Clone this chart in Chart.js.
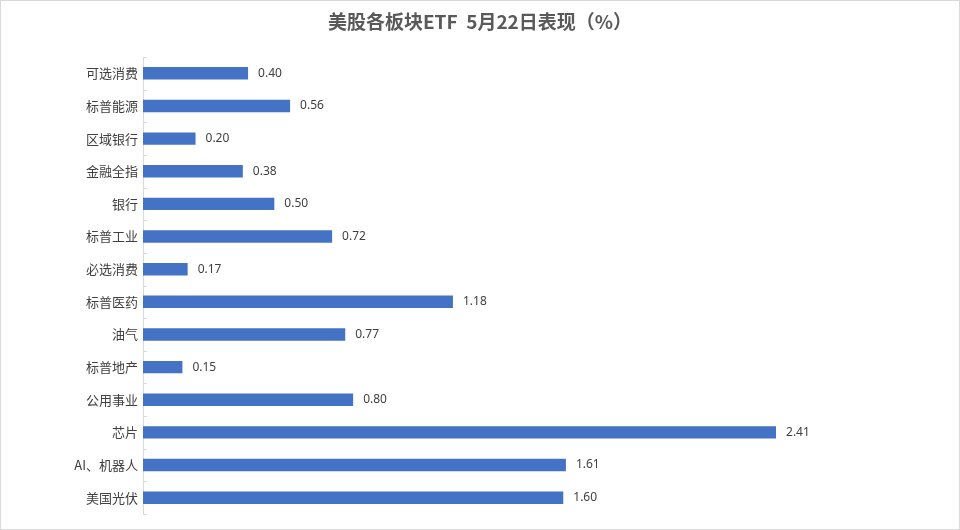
<!DOCTYPE html>
<html>
<head>
<meta charset="utf-8">
<script src="https://cdn.jsdelivr.net/npm/chart.js@4/dist/chart.umd.min.js"></script>
<style>
  html, body { margin: 0; padding: 0; background: #fff; }
  #wrap { width: 960px; height: 530px; position: relative; }
</style>
</head>
<body>
<div id="wrap"><canvas id="etfChart" width="960" height="530"></canvas></div>
<script>
// categories, top to bottom
const sectors = ['可选消费', '标普能源', '区域银行', '金融全指', '银行', '标普工业', '必选消费',
  '标普医药', '油气', '标普地产', '公用事业', '芯片', 'AI、机器人', '美国光伏'];
// 5月22日涨幅 (%)
const changes = [0.40, 0.56, 0.20, 0.38, 0.50, 0.72, 0.17, 1.18, 0.77, 0.15, 0.80, 2.41, 1.61, 1.60];
const xMax = 3;
const titleText = '美股各板块ETF  5月22日表现（%）';

const cjkFont = '"Noto Sans CJK SC", "Microsoft YaHei", sans-serif';

// frame, centred title and small inward ticks on the category axis
const framePlugin = {
  id: 'frame',
  beforeDraw(chart) {
    const ctx = chart.ctx;
    ctx.save();
    ctx.fillStyle = '#fff';
    ctx.fillRect(0, 0, chart.width, chart.height);
    ctx.strokeStyle = '#d9d9d9';
    ctx.lineWidth = 1;
    ctx.strokeRect(0.5, 0.5, chart.width - 1, chart.height - 1);
    // title centred on the whole picture, not on the plot
    ctx.font = 'bold 19px ' + cjkFont;
    ctx.fillStyle = '#595959';
    ctx.textAlign = 'center';
    ctx.textBaseline = 'middle';
    ctx.fillText(titleText, chart.width / 2, 22);
    ctx.restore();
  },
  afterDraw(chart) {
    const y = chart.scales.y;
    const ctx = chart.ctx;
    const step = (y.bottom - y.top) / sectors.length;
    ctx.save();
    ctx.strokeStyle = '#d9d9d9';
    ctx.lineWidth = 1;
    for (let i = 0; i <= sectors.length; i++) {
      const py = Math.round(y.top + i * step) + 0.5;
      ctx.beginPath();
      ctx.moveTo(y.right, py);
      ctx.lineTo(y.right + 4, py);
      ctx.stroke();
    }
    ctx.restore();
  }
};

// value labels at the end of each bar
const valueLabels = {
  id: 'valueLabels',
  afterDatasetsDraw(chart) {
    const ctx = chart.ctx;
    const meta = chart.getDatasetMeta(0);
    ctx.save();
    ctx.font = '12px "Noto Sans", sans-serif';
    ctx.fillStyle = '#404040';
    ctx.textAlign = 'left';
    ctx.textBaseline = 'middle';
    meta.data.forEach((bar, i) => {
      ctx.fillText(changes[i].toFixed(2), bar.x + 10, bar.y);
    });
    ctx.restore();
  }
};

new Chart(document.getElementById('etfChart').getContext('2d'), {
  type: 'bar',
  data: {
    labels: sectors,
    datasets: [{
      data: changes,
      backgroundColor: '#4472c4',
      borderWidth: 0,
      barPercentage: 0.38,
      categoryPercentage: 1
    }]
  },
  options: {
    indexAxis: 'y',
    responsive: false,
    animation: false,
    layout: { padding: { left: 0, right: 29, top: 57, bottom: 16 } },
    plugins: {
      legend: { display: false },
      tooltip: { enabled: false },
      title: { display: false }
    },
    scales: {
      x: {
        display: false,
        min: 0,
        max: xMax
      },
      y: {
        afterFit(scale) { scale.width = 143; },
        grid: { display: false, drawTicks: false },
        border: { display: true, color: '#d9d9d9', width: 1 },
        ticks: {
          color: '#404040',
          padding: 5,
          font: { family: cjkFont, size: 13 }
        }
      }
    }
  },
  plugins: [framePlugin, valueLabels]
});
</script>
</body>
</html>
